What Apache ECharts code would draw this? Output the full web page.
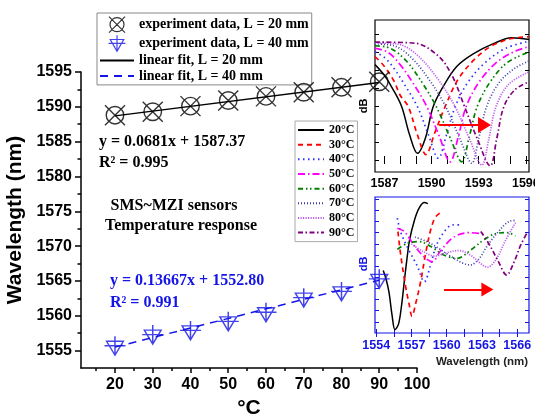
<!DOCTYPE html>
<html>
<head>
<meta charset="utf-8">
<script src="https://cdn.jsdelivr.net/npm/echarts@6/dist/echarts.min.js"></script>
<style>
  html, body { margin: 0; padding: 0; background: #fff; }
  #chart { width: 535px; height: 415px; }
</style>
</head>
<body>
<div id="chart"></div>
<script>
// main plot: resonance wavelength vs temperature
const temps = [20, 30, 40, 50, 60, 70, 80, 90];
const wl20mm = [1588.8, 1589.3, 1590.1, 1590.9, 1591.5, 1592.1, 1592.8, 1593.6];
const wl40mm = [1555.7, 1557.3, 1557.9, 1559.2, 1560.5, 1562.6, 1563.5, 1565.3];
const fit20mm = [[20, 1588.7], [90, 1593.5]];
const fit40mm = [[20, 1555.5], [90, 1565.1]];
const xLabels = [20, 30, 40, 50, 60, 70, 80, 90, 100];
const xMinor = [15, 25, 35, 45, 55, 65, 75, 85, 95];
const yLabels = [1555, 1560, 1565, 1570, 1575, 1580, 1585, 1590, 1595];
const yMinor = [1557.5, 1562.5, 1567.5, 1572.5, 1577.5, 1582.5, 1587.5, 1592.5];

// insets: transmission spectra, [wavelength nm, relative dB]
const tempNames = ['20°C', '30°C', '40°C', '50°C', '60°C', '70°C', '80°C', '90°C'];
const topSpectra = [
  [[1586.4,5.3],[1587.0,4.7],[1587.5,4.0],[1588.1,2.96],[1588.6,1.4],[1589.1,0.37],[1589.6,1.2],[1590.1,2.96],[1590.75,4.1],[1591.6,5.2],[1592.65,5.9],[1593.9,6.45],[1595.1,6.8],[1596.2,6.7]],
  [[1586.4,5.75],[1587.0,5.2],[1587.6,4.4],[1588.0,3.6],[1588.52,2.96],[1589.1,1.4],[1589.64,0.3],[1590.2,1.5],[1590.86,2.96],[1591.7,4.5],[1592.8,5.65],[1593.85,6.35],[1595.1,6.75],[1596.2,6.85]],
  [[1586.4,6.0],[1587.0,5.7],[1587.6,5.1],[1588.2,4.3],[1589.1,2.96],[1589.8,1.4],[1590.43,0.1],[1590.95,1.4],[1591.5,2.96],[1592.3,4.3],[1593.4,5.4],[1594.7,6.2],[1596.2,6.6]],
  [[1586.4,6.2],[1587.2,6.0],[1588.0,5.3],[1588.8,4.3],[1589.7,2.96],[1590.5,1.3],[1591.18,-0.1],[1591.7,1.3],[1592.2,2.96],[1593.0,4.3],[1594.1,5.4],[1595.2,6.0],[1596.2,6.3]],
  [[1586.4,6.35],[1587.4,6.2],[1588.4,5.5],[1589.4,4.3],[1590.3,2.96],[1591.2,1.2],[1591.92,-0.1],[1592.4,1.3],[1592.9,2.96],[1593.7,4.3],[1594.8,5.4],[1596.2,6.0]],
  [[1586.4,6.45],[1587.6,6.35],[1588.7,5.7],[1589.9,4.4],[1590.9,2.96],[1591.8,1.2],[1592.56,-0.18],[1593.0,1.2],[1593.5,2.96],[1594.3,4.3],[1595.3,5.1],[1596.2,5.5]],
  [[1586.4,6.5],[1587.8,6.45],[1589.0,5.9],[1590.4,4.5],[1591.5,2.96],[1592.4,1.2],[1593.2,-0.28],[1593.65,1.2],[1594.1,2.96],[1594.9,4.2],[1596.2,4.9]],
  [[1586.4,6.55],[1588.9,6.5],[1590.4,5.8],[1591.3,4.7],[1592.1,2.96],[1592.9,1.2],[1593.73,-0.33],[1594.15,1.2],[1594.6,2.96],[1595.3,3.9],[1596.2,4.35]]
];
const bottomSpectra = [
  [[1554.6,5.6],[1554.85,4.8],[1555.1,3.6],[1555.35,1.6],[1555.6,0.3],[1555.9,0.8],[1556.15,2.4],[1556.4,4.7],[1556.6,6.5],[1556.85,8.4],[1557.25,10.1],[1557.65,11.2],[1558.1,11.7],[1558.4,11.6]],
  [[1555.85,9.1],[1556.1,6.9],[1556.5,4.2],[1556.8,2.6],[1557.05,1.5],[1557.35,2.6],[1557.8,4.7],[1558.2,7.1],[1558.65,9.3],[1559.05,10.4],[1559.6,10.9]],
  [[1555.8,10.3],[1556.1,9.0],[1556.8,7.4],[1557.5,6.0],[1558.1,4.6],[1558.6,6.0],[1559.1,7.8],[1559.8,9.1],[1560.5,9.7],[1561.2,9.7]],
  [[1555.8,9.4],[1556.4,9.1],[1557.2,7.9],[1558.1,6.8],[1558.75,6.4],[1559.5,7.4],[1560.6,8.6],[1561.9,9.0],[1563.1,8.9]],
  [[1555.8,7.5],[1556.65,8.05],[1557.65,8.2],[1558.65,7.75],[1559.75,7.0],[1560.9,6.7],[1562.05,7.45],[1563.15,8.35],[1564.3,8.95],[1565.15,9.0],[1565.85,8.7]],
  [[1557.3,8.6],[1558.3,8.2],[1559.3,7.6],[1560.3,6.9],[1561.3,6.3],[1562.0,6.1],[1562.7,6.6],[1563.5,7.9],[1564.4,9.1],[1565.3,10.0],[1565.9,10.1]],
  [[1557.0,8.0],[1558.0,7.3],[1559.0,6.9],[1560.0,7.2],[1561.0,7.4],[1562.0,7.0],[1562.8,6.3],[1563.45,5.9],[1564.2,6.6],[1565.0,8.3],[1565.85,9.9]],
  [[1562.9,9.1],[1563.7,7.8],[1564.4,6.4],[1565.1,5.2],[1565.7,6.3],[1566.3,7.9],[1566.9,9.1]]
];
const topTicksX = [1587, 1588, 1589, 1590, 1591, 1592, 1593, 1594, 1595, 1596];
const topLabelsX = [1587, 1590, 1593, 1596];
const topTicksY = [0, 1, 2, 3, 4, 5, 6, 7];
const bottomTicksX = [1554, 1555.5, 1557, 1558.5, 1560, 1561.5, 1563, 1564.5, 1566];
const bottomLabelsX = [1554, 1557, 1560, 1563, 1566];
const bottomTicksY = [1, 2, 3, 4, 5, 6, 7, 8, 9, 10, 11, 12];
// red shift arrows, [from, to] in inset coordinates
const topArrow = [[1590.48, 1.94], [1593.37, 1.94]];
const bottomArrow = [[1559.77, 3.9], [1563.46, 3.9]];

const BLUE = '#1414e6';
const NONE = 'rgba(0,0,0,0)';
const SERIF = '"Liberation Serif", "Times New Roman", serif';
const SANS = '"Liberation Sans", Arial, sans-serif';
const plain = (v) => String(v);

const tempColors = ['#000000', '#ff0000', '#2f2fff', '#ff00ff', '#008000', '#3a3aa8', '#c060f0', '#800080'];
const tempDash = ['solid', [5, 4], [1.5, 3.5], [7, 3, 1.5, 3], [5, 3, 1.5, 2.5, 1.5, 3], [1, 2], [1.2, 1.3], [5, 2.5, 1.5, 2.5]];

const xCircle = 'path://M3,10A7,7,0,1,1,17,10A7,7,0,1,1,3,10ZM2,2L18,18M18,2L2,18';
const triPlus = 'path://M2,5L18,5L10,19ZM10,0L10,19M0,9.5L20,9.5';

const chart = echarts.init(document.getElementById('chart'));

const insetSeries = [];
tempNames.forEach((name, i) => {
  [[topSpectra, 2, 2], [bottomSpectra, 4, 4]].forEach(([set, xi, yi]) => {
    insetSeries.push({
      name: name,
      type: 'line',
      xAxisIndex: xi,
      yAxisIndex: yi,
      data: set[i],
      smooth: 0.35,
      symbol: 'none',
      clip: true,
      z: 3,
      // transparent item colour keeps the legend icon a bare line
      itemStyle: { color: NONE, borderWidth: 0 },
      lineStyle: { color: tempColors[i], width: i === 0 ? 1.5 : 1.7, type: tempDash[i] }
    });
  });
});

const arrowLine = (pts, size) => ({
  silent: true,
  symbol: ['none', 'triangle'],
  symbolSize: size,
  label: { show: false },
  itemStyle: { color: '#ff0000' },
  lineStyle: { color: '#ff0000', width: 2, type: 'solid' },
  data: [[{ coord: pts[0] }, { coord: pts[1] }]]
});
insetSeries[0].markLine = arrowLine(topArrow, [16, 13]);
insetSeries[1].markLine = arrowLine(bottomArrow, [14, 12]);

const option = {
  backgroundColor: '#fff',
  animation: false,
  grid: [
    { left: 81, top: 72, right: 118, bottom: 47, outerBoundsMode: 'none' },
    { left: 375, top: 20, width: 154, height: 152, show: true, backgroundColor: '#fff',
      borderColor: '#000', borderWidth: 1.2, outerBoundsMode: 'none' },
    { left: 375, top: 197, width: 154, height: 136, show: true, backgroundColor: '#fff',
      borderColor: BLUE, borderWidth: 1.2, outerBoundsMode: 'none' }
  ],
  legend: [
    {
      data: [
        'experiment data, L = 20 mm',
        'experiment data, L = 40 mm',
        { name: 'linear fit, L = 20 mm', itemStyle: { color: NONE, borderWidth: 0 } },
        { name: 'linear fit, L = 40 mm', itemStyle: { color: NONE, borderWidth: 0 } }
      ],
      orient: 'vertical',
      left: 97, top: 13,
      padding: [3, 3, 2, 2],
      itemWidth: 34, itemHeight: 16, itemGap: 1.5,
      borderColor: '#888', borderWidth: 1,
      selectedMode: false,
      itemStyle: { borderWidth: 1.2 },
      textStyle: { fontFamily: SERIF, fontWeight: 'bold', fontSize: 14, color: '#000' }
    },
    {
      data: tempNames,
      orient: 'vertical',
      left: 295, top: 121,
      padding: [3, 3, 3, 2],
      itemWidth: 26, itemHeight: 14, itemGap: 2.66,
      borderColor: '#aaa', borderWidth: 1,
      selectedMode: false,
      itemStyle: { color: NONE, borderWidth: 0 },
      textStyle: { fontFamily: SERIF, fontWeight: 'bold', fontSize: 12, color: '#000' }
    }
  ],
  xAxis: [
    {
      gridIndex: 0, type: 'value', min: 11, max: 100,
      name: '°C', nameLocation: 'middle', nameGap: 25,
      nameTextStyle: { fontFamily: SANS, fontWeight: 'bold', fontSize: 21, color: '#000' },
      axisLine: { lineStyle: { color: '#000', width: 1.5 } },
      axisTick: { customValues: xLabels, length: 5, lineStyle: { width: 1.5 } },
      axisLabel: { customValues: xLabels, formatter: plain, margin: 9, fontFamily: SANS, fontWeight: 'bold', fontSize: 16, color: '#000' },
      splitLine: { show: false }
    },
    {
      gridIndex: 0, type: 'value', min: 11, max: 100, position: 'bottom',
      axisLine: { show: false },
      axisTick: { customValues: xMinor, length: 3, lineStyle: { color: '#000', width: 1.5 } },
      axisLabel: { show: false },
      splitLine: { show: false }
    },
    {
      gridIndex: 1, type: 'value', min: 1586.4, max: 1596.2,
      axisLine: { show: false },
      axisTick: { customValues: topTicksX, inside: true, length: 4, lineStyle: { color: '#000' } },
      axisLabel: { customValues: topLabelsX, formatter: plain, margin: 5, fontFamily: SANS, fontWeight: 'bold', fontSize: 12.5, color: '#000' },
      splitLine: { show: false }
    },
    {
      gridIndex: 1, type: 'value', min: 1586.4, max: 1596.2, position: 'top',
      axisLine: { show: false },
      axisTick: { customValues: topTicksX, inside: true, length: 4, lineStyle: { color: '#000' } },
      axisLabel: { show: false },
      splitLine: { show: false }
    },
    {
      gridIndex: 2, type: 'value', min: 1553.9, max: 1567,
      axisLine: { show: false },
      axisTick: { customValues: bottomTicksX, inside: true, length: 4, lineStyle: { color: BLUE } },
      axisLabel: { customValues: bottomLabelsX, formatter: plain, margin: 6, fontFamily: SANS, fontWeight: 'bold', fontSize: 12.5, color: BLUE },
      splitLine: { show: false }
    },
    {
      gridIndex: 2, type: 'value', min: 1553.9, max: 1567, position: 'top',
      axisLine: { show: false },
      axisTick: { customValues: bottomTicksX, inside: true, length: 4, lineStyle: { color: BLUE } },
      axisLabel: { show: false },
      splitLine: { show: false }
    }
  ],
  yAxis: [
    {
      gridIndex: 0, type: 'value', min: 1552.5, max: 1595,
      name: 'Wavelength (nm)', nameLocation: 'middle', nameGap: 48, nameRotate: 90,
      nameTextStyle: { fontFamily: SANS, fontWeight: 'bold', fontSize: 21, color: '#000' },
      axisLine: { show: true, lineStyle: { color: '#000', width: 1.5 } },
      axisTick: { show: true, customValues: yLabels, length: 6, lineStyle: { width: 1.5 } },
      axisLabel: { customValues: yLabels, formatter: plain, margin: 9, fontFamily: SANS, fontWeight: 'bold', fontSize: 16, color: '#000' },
      splitLine: { show: false }
    },
    {
      gridIndex: 0, type: 'value', min: 1552.5, max: 1595, position: 'left',
      axisLine: { show: false },
      axisTick: { show: true, customValues: yMinor, length: 3.5, lineStyle: { color: '#000', width: 1.5 } },
      axisLabel: { show: false },
      splitLine: { show: false }
    },
    {
      gridIndex: 1, type: 'value', min: -0.667, max: 7.78,
      axisLine: { show: false },
      axisTick: { show: true, customValues: topTicksY, inside: true, length: 4, lineStyle: { color: '#000' } },
      axisLabel: { show: false },
      splitLine: { show: false }
    },
    {
      gridIndex: 1, type: 'value', min: -0.667, max: 7.78, position: 'right',
      axisLine: { show: false },
      axisTick: { show: true, customValues: topTicksY, inside: true, length: 4, lineStyle: { color: '#000' } },
      axisLabel: { show: false },
      splitLine: { show: false }
    },
    {
      gridIndex: 2, type: 'value', min: 0, max: 12.2,
      axisLine: { show: false },
      axisTick: { show: true, customValues: bottomTicksY, inside: true, length: 4, lineStyle: { color: BLUE } },
      axisLabel: { show: false },
      splitLine: { show: false }
    },
    {
      gridIndex: 2, type: 'value', min: 0, max: 12.2, position: 'right',
      axisLine: { show: false },
      axisTick: { show: true, customValues: bottomTicksY, inside: true, length: 4, lineStyle: { color: BLUE } },
      axisLabel: { show: false },
      splitLine: { show: false }
    }
  ],
  series: [
    ...insetSeries,
    {
      name: 'linear fit, L = 20 mm', type: 'line', xAxisIndex: 0, yAxisIndex: 0,
      data: fit20mm, symbol: 'none', z: 4,
      itemStyle: { color: NONE },
      lineStyle: { color: '#000', width: 1.5 }
    },
    {
      name: 'linear fit, L = 40 mm', type: 'line', xAxisIndex: 0, yAxisIndex: 0,
      data: fit40mm, symbol: 'none', z: 4,
      itemStyle: { color: NONE },
      lineStyle: { color: BLUE, width: 1.5, type: [8, 6] }
    },
    {
      name: 'experiment data, L = 20 mm', type: 'scatter', xAxisIndex: 0, yAxisIndex: 0,
      data: temps.map((t, i) => [t, wl20mm[i]]),
      symbol: xCircle, symbolSize: 20, z: 6,
      itemStyle: { color: NONE, borderColor: '#000', borderWidth: 1.4 }
    },
    {
      name: 'experiment data, L = 40 mm', type: 'scatter', xAxisIndex: 0, yAxisIndex: 0,
      data: temps.map((t, i) => [t, wl40mm[i]]),
      symbol: triPlus, symbolSize: [21, 19], z: 6,
      itemStyle: { color: NONE, borderColor: BLUE, borderWidth: 1.4 }
    }
  ],
  graphic: [
    { type: 'text', x: 99, y: 142, style: { text: 'y = 0.0681x + 1587.37', font: 'bold 16px ' + SERIF, fill: '#000', verticalAlign: 'middle' } },
    { type: 'text', x: 99, y: 163, style: { text: 'R² = 0.995', font: 'bold 16px ' + SERIF, fill: '#000', verticalAlign: 'middle' } },
    { type: 'text', x: 174, y: 206, style: { text: 'SMS~MZI sensors', font: 'bold 16px ' + SERIF, fill: '#000', align: 'center', verticalAlign: 'middle' } },
    { type: 'text', x: 181, y: 226, style: { text: 'Temperature response', font: 'bold 16px ' + SERIF, fill: '#000', align: 'center', verticalAlign: 'middle' } },
    { type: 'text', x: 110, y: 281, style: { text: 'y = 0.13667x + 1552.80', font: 'bold 16px ' + SERIF, fill: BLUE, verticalAlign: 'middle' } },
    { type: 'text', x: 110, y: 303, style: { text: 'R² = 0.991', font: 'bold 16px ' + SERIF, fill: BLUE, verticalAlign: 'middle' } },
    { type: 'text', x: 364, y: 106, rotation: Math.PI / 2, style: { text: 'dB', font: 'bold 11px ' + SANS, fill: '#000', align: 'center', verticalAlign: 'middle' } },
    { type: 'text', x: 364, y: 264, rotation: Math.PI / 2, style: { text: 'dB', font: 'bold 11px ' + SANS, fill: BLUE, align: 'center', verticalAlign: 'middle' } },
    { type: 'text', x: 482, y: 362, style: { text: 'Wavelength (nm)', font: 'bold 11.5px ' + SANS, fill: '#222', align: 'center', verticalAlign: 'middle' } }
  ]
};

chart.setOption(option);
</script>
</body>
</html>
